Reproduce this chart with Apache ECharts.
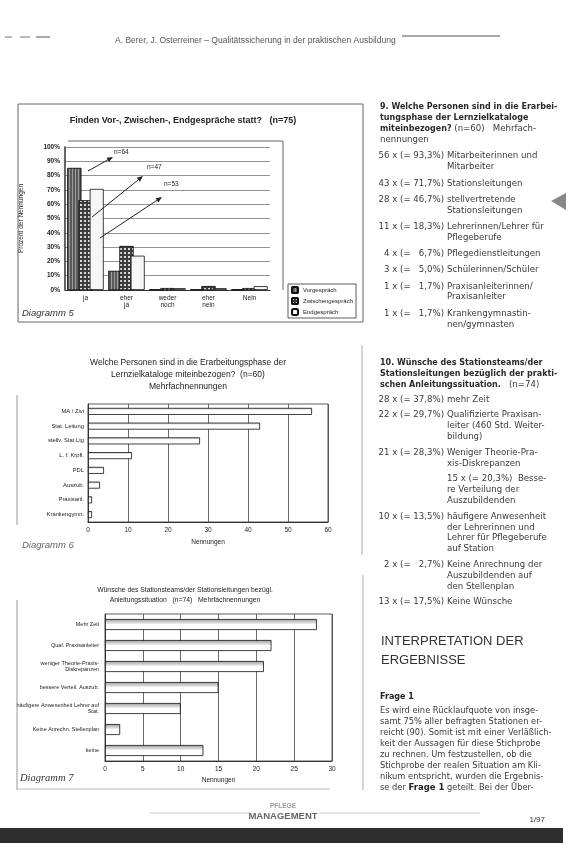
<!DOCTYPE html>
<html><head><meta charset="utf-8">
<script src="https://cdn.jsdelivr.net/npm/echarts@6/dist/echarts.min.js"></script>
<style>html,body{margin:0;padding:0;background:#fff}#c{width:568px;height:846px}</style>
</head><body><div id="c"></div>
<script>
// ---------- Diagramm 5 ----------
const d5Categories = ['ja', 'eher\nja', 'weder\nnoch', 'eher\nnein', 'Nein'];
const d5SeriesNames = ['Vorgespräch', 'Zwischengespräch', 'Endgespräch'];
const d5Vor = [85.3, 13.3, 0.5, 0.5, 0.5];
const d5Zwischen = [62.7, 30.7, 1.3, 2.7, 1.3];
const d5End = [70.7, 24.0, 1.3, 1.3, 2.7];
const d5Notes = ['n=64', 'n=47', 'n=53'];

// ---------- Diagramm 6 ----------
const d6Categories = ['MA / Zivi', 'Stat. Leitung', 'stellv. Stat.Ltg', 'L. f. Krpfl.', 'PDL', 'Auszub.', 'Praxisanl.', 'Krankengymn.'];
const d6Values = [56, 43, 28, 11, 4, 3, 1, 1];

// ---------- Diagramm 7 ----------
const d7Categories = ['Mehr Zeit', 'Qual. Praxisanleiter', 'weniger Theorie-Praxis-\nDiskrepanzen', 'bessere Verteil. Auszub.', 'häufigere Anwesenheit Lehrer auf\nStat.', 'Keine Anrechn. Stellenplan', 'keine'];
const d7Values = [28, 22, 21, 15, 10, 2, 13];

const SANS = '"Liberation Sans", Arial, sans-serif';
const COL = '"DejaVu Sans", sans-serif';

const chart = echarts.init(document.getElementById('c'), null, {renderer: 'canvas'});

function txt(x, y, s, o) {
  o = o || {};
  const st = {text: s, fill: o.fill || '#3a3a3a', font: o.font || ('9px ' + COL), align: o.align || 'left', verticalAlign: 'middle'};
  if (o.rich) st.rich = o.rich;
  return {type: 'text', x: x, y: y, silent: true, z: 100, style: st};
}
function ln(x1, y1, x2, y2, c, w) {
  return {type: 'line', silent: true, z: 90, shape: {x1, y1, x2, y2}, style: {stroke: c || '#555', lineWidth: w || 1}};
}
function arrow(x1, y1, x2, y2) {
  const a = Math.atan2(y2 - y1, x2 - x1), L = 6, W = 2.5;
  const bx = x2 - L * Math.cos(a), by = y2 - L * Math.sin(a);
  const px = -Math.sin(a) * W, py = Math.cos(a) * W;
  return [
    ln(x1, y1, bx, by, '#222', 1),
    {type: 'polygon', silent: true, z: 91, shape: {points: [[x2, y2], [bx + px, by + py], [bx - px, by - py]]}, style: {fill: '#222'}}
  ];
}

const g = [];
// Header
g.push(ln(5, 37, 12, 37, '#777', 1), ln(20, 37, 30, 37, '#777', 1), ln(36, 37, 50, 37, '#555', 1));
g.push(txt(115, 41, 'A. Berer, J. Osterreiner – Qualitätssicherung in der praktischen Ausbildung', {font: '8.5px ' + SANS, fill: '#555'}));
g.push(ln(402, 36, 500, 36, '#555', 1));

// Frames
g.push({type: 'rect', silent: true, z: 1, shape: {x: 18, y: 104, width: 345, height: 218}, style: {fill: 'none', stroke: '#666', lineWidth: 1}});
g.push(ln(68, 141, 283, 141, '#666', 1), ln(283, 141, 283, 290, '#666', 1));
g.push(ln(17, 395, 17, 525, '#999', 1), ln(362, 345, 362, 555, '#aaa', 1));
g.push(ln(17, 600, 17, 790, '#999', 1), ln(363, 575, 363, 790, '#aaa', 1), ln(17, 789, 330, 789, '#bbb', 1));

// Diagram labels
g.push(txt(22, 313, 'Diagramm 5', {font: 'italic 9.5px ' + SANS, fill: '#333'}));
g.push(txt(22, 545, 'Diagramm 6', {font: 'italic 9.5px ' + SANS, fill: '#666'}));
g.push(txt(20, 778, 'Diagramm 7', {font: 'italic 10.5px "Liberation Serif", serif', fill: '#333'}));

// n= annotations (arrows)
g.push(...arrow(88, 171, 113, 157), ...arrow(92, 217, 143, 176), ...arrow(100, 238, 162, 197));
g.push(txt(114, 152, d5Notes[0], {font: '6.5px ' + SANS, fill: '#222'}));
g.push(txt(147, 167, d5Notes[1], {font: '6.5px ' + SANS, fill: '#222'}));
g.push(txt(164, 184, d5Notes[2], {font: '6.5px ' + SANS, fill: '#222'}));

// Right pointer triangle
g.push({type: 'polygon', silent: true, z: 50, shape: {points: [[551, 201], [566, 193], [566, 210]]}, style: {fill: '#888'}});

// Right column text
const BOLD = 'bold 8px ' + COL;
const NORM = '8.6px ' + COL;
const rich = {b: {font: BOLD, fill: '#2a2a2a'}};
function block(y, header, items, lh, gapHead, gapItem) {
  header.forEach(h => { g.push(txt(380, y, h, {font: NORM, rich: rich})); y += lh; });
  y += gapHead;
  items.forEach(it => {
    if (it.c) g.push(txt(444, y, it.c, {font: NORM, align: 'right'}));
    it.l.forEach(l => { g.push(txt(447, y, l, {font: NORM})); y += lh; });
    y += gapItem;
  });
}
block(107,
  ['{b|9. Welche Personen sind in die Erarbei-}', '{b|tungsphase der Lernzielkataloge}', '{b|miteinbezogen?} (n=60)   Mehrfach-', 'nennungen'],
  [
    {c: '56 x (= 93,3%)', l: ['Mitarbeiterinnen und', 'Mitarbeiter']},
    {c: '43 x (= 71,7%)', l: ['Stationsleitungen']},
    {c: '28 x (= 46,7%)', l: ['stellvertretende', 'Stationsleitungen']},
    {c: '11 x (= 18,3%)', l: ['Lehrerinnen/Lehrer für', 'Pflegeberufe']},
    {c: '4 x (=   6,7%)', l: ['Pflegedienstleitungen']},
    {c: '3 x (=   5,0%)', l: ['Schülerinnen/Schüler']},
    {c: '1 x (=   1,7%)', l: ['Praxisanleiterinnen/', 'Praxisanleiter']},
    {c: '1 x (=   1,7%)', l: ['Krankengymnastin-', 'nen/gymnasten']}
  ], 10.8, 6, 5.5);
block(363,
  ['{b|10. Wünsche des Stationsteams/der}', '{b|Stationsleitungen bezüglich der prakti-}', '{b|schen Anleitungssituation.}   (n=74)'],
  [
    {c: '28 x (= 37,8%)', l: ['mehr Zeit']},
    {c: '22 x (= 29,7%)', l: ['Qualifizierte Praxisan-', 'leiter (460 Std. Weiter-', 'bildung)']},
    {c: '21 x (= 28,3%)', l: ['Weniger Theorie-Pra-', 'xis-Diskrepanzen']},
    {c: '', l: ['15 x (= 20,3%)  Besse-', 're Verteilung der', 'Auszubildenden']},
    {c: '10 x (= 13,5%)', l: ['häufigere Anwesenheit', 'der Lehrerinnen und', 'Lehrer für Pflegeberufe', 'auf Station']},
    {c: '2 x (=   2,7%)', l: ['Keine Anrechnung der', 'Auszubildenden auf', 'den Stellenplan']},
    {c: '13 x (= 17,5%)', l: ['Keine Wünsche']}
  ], 10.8, 4, 5);

g.push(txt(381, 641, 'INTERPRETATION DER', {font: '13px ' + SANS, fill: '#333'}));
g.push(txt(381, 660, 'ERGEBNISSE', {font: '13px ' + SANS, fill: '#333'}));
g.push(txt(380, 697, 'Frage 1', {font: BOLD, fill: '#222'}));
const body = [
  'Es wird eine Rücklaufquote von insge-',
  'samt 75% aller befragten Stationen er-',
  'reicht (90). Somit ist mit einer Verläßlich-',
  'keit der Aussagen für diese Stichprobe',
  'zu rechnen. Um festzustellen, ob die',
  'Stichprobe der realen Situation am Kli-',
  'nikum entspricht, wurden die Ergebnis-',
  'se der {b|Frage 1} geteilt. Bei der Über-'
];
body.forEach((l, i) => g.push(txt(380, 711 + i * 11, l, {font: '8.3px ' + COL, rich: {b: {font: 'bold 8.5px ' + COL, fill: '#222'}}})));

// Footer
g.push(ln(150, 813, 250, 813, '#ccc', 1), ln(320, 813, 480, 813, '#ccc', 1));
g.push(txt(283, 806, 'PFLEGE', {font: 'bold 6.5px ' + SANS, fill: '#999', align: 'center'}));
g.push(txt(283, 816, 'MANAGEMENT', {font: 'bold 9.5px ' + SANS, fill: '#666', align: 'center'}));
g.push(txt(545, 820, '1/97', {font: '8px ' + SANS, fill: '#333', align: 'right'}));
g.push({type: 'rect', silent: true, z: 80, shape: {x: 0, y: 828, width: 563, height: 15}, style: {fill: '#2e2e2e'}});

const axisFont = {fontFamily: SANS, color: '#222'};

const option = {
  animation: false,
  backgroundColor: '#fff',
  textStyle: {fontFamily: SANS},
  title: [
    {text: 'Finden Vor-, Zwischen-, Endgespräche statt?   (n=75)', left: 183, top: 116, textAlign: 'center', padding: 0,
     textStyle: {fontSize: 9, fontWeight: 'bold', color: '#222', fontFamily: SANS}},
    {text: 'Welche Personen sind in die Erarbeitungsphase der\nLernzielkataloge miteinbezogen?  (n=60)\nMehrfachnennungen', left: 188, top: 357, textAlign: 'center', padding: 0,
     textStyle: {fontSize: 8.5, fontWeight: 'normal', lineHeight: 12, color: '#222', fontFamily: SANS}},
    {text: 'Wünsche des Stationsteams/der Stationsleitungen bezügl.\nAnleitungssituation   (n=74)   Mehrfachnennungen', left: 185, top: 585, textAlign: 'center', padding: 0,
     textStyle: {fontSize: 6.8, fontWeight: 'normal', lineHeight: 10, color: '#222', fontFamily: SANS}}
  ],
  legend: {
    data: d5SeriesNames, orient: 'vertical', left: 288, top: 284, itemWidth: 6, itemHeight: 6, itemGap: 3,
    padding: [2, 3], borderColor: '#333', borderWidth: 0.8, textStyle: {fontSize: 6, fontFamily: SANS, color: '#222'}
  },
  grid: [
    {left: 65, top: 147, width: 205, height: 143, containLabel: false, outerBoundsMode: 'none'},
    {left: 88, top: 404, width: 240, height: 118, containLabel: false, outerBoundsMode: 'none', show: true, borderColor: '#333', borderWidth: 0.8},
    {left: 105, top: 614, width: 227, height: 147, containLabel: false, outerBoundsMode: 'none', show: true, borderColor: '#333', borderWidth: 0.8}
  ],
  xAxis: [
    {type: 'category', gridIndex: 0, data: d5Categories, axisTick: {show: false},
     axisLine: {lineStyle: {color: '#333'}}, axisLabel: Object.assign({fontSize: 6.5, lineHeight: 7, margin: 5}, axisFont)},
    {type: 'value', gridIndex: 1, min: 0, max: 60, interval: 10, name: 'Nennungen', nameLocation: 'middle', nameGap: 17,
     nameTextStyle: {fontSize: 6.5, fontFamily: SANS, color: '#222'},
     axisLine: {show: true, lineStyle: {color: '#333'}}, axisTick: {show: false},
     axisLabel: Object.assign({fontSize: 6.5, margin: 5}, axisFont),
     splitLine: {show: true, lineStyle: {color: '#444', width: 0.8}}},
    {type: 'value', gridIndex: 2, min: 0, max: 30, interval: 5, name: 'Nennungen', nameLocation: 'middle', nameGap: 16,
     nameTextStyle: {fontSize: 6.5, fontFamily: SANS, color: '#222'},
     axisLine: {show: true, lineStyle: {color: '#333'}}, axisTick: {show: false},
     axisLabel: Object.assign({fontSize: 6.5, margin: 5}, axisFont),
     splitLine: {show: true, lineStyle: {color: '#444', width: 0.8}}}
  ],
  yAxis: [
    {type: 'value', gridIndex: 0, min: 0, max: 100, interval: 10, name: 'Prozent der Nennungen', nameLocation: 'middle', nameGap: 40,
     nameTextStyle: {fontSize: 6.5, fontFamily: SANS, color: '#222'},
     axisLine: {show: true, lineStyle: {color: '#333', width: 1.5}}, axisTick: {show: false},
     axisLabel: Object.assign({fontSize: 6.5, fontWeight: 'bold', margin: 5, formatter: '{value}%'}, axisFont),
     splitLine: {show: true, lineStyle: {color: '#777', width: 0.8}}},
    {type: 'category', gridIndex: 1, data: d6Categories, inverse: true, axisTick: {show: false},
     axisLine: {lineStyle: {color: '#333'}}, axisLabel: Object.assign({fontSize: 5.8, margin: 4}, axisFont)},
    {type: 'category', gridIndex: 2, data: d7Categories, inverse: true, axisTick: {show: false},
     axisLine: {lineStyle: {color: '#333'}}, axisLabel: Object.assign({fontSize: 5.5, lineHeight: 6.5, margin: 6}, axisFont)}
  ],
  series: [
    {name: d5SeriesNames[0], type: 'bar', xAxisIndex: 0, yAxisIndex: 0, data: d5Vor, barWidth: 14, barGap: '-20%',
     itemStyle: {color: '#5a5a5a', borderColor: '#111', borderWidth: 0.6,
       decal: {symbol: 'rect', symbolSize: 1, dashArrayX: [1, 2], dashArrayY: [4, 0], color: 'rgba(200,200,200,0.6)'}}},
    {name: d5SeriesNames[1], type: 'bar', xAxisIndex: 0, yAxisIndex: 0, data: d5Zwischen, barWidth: 14,
     itemStyle: {color: '#3c3c3c', borderColor: '#111', borderWidth: 0.6,
       decal: {symbol: 'rect', symbolSize: 1, dashArrayX: [2, 2], dashArrayY: [2, 2], color: 'rgba(235,235,235,0.9)'}}},
    {name: d5SeriesNames[2], type: 'bar', xAxisIndex: 0, yAxisIndex: 0, data: d5End, barWidth: 14,
     itemStyle: {color: '#f6f6f6', borderColor: '#111', borderWidth: 0.8}},
    {name: 'Nennungen 6', type: 'bar', xAxisIndex: 1, yAxisIndex: 1, data: d6Values, barWidth: 7,
     itemStyle: {color: new echarts.graphic.LinearGradient(0, 0, 0, 1, [{offset: 0, color: '#bbb'}, {offset: 0.35, color: '#fff'}, {offset: 1, color: '#fff'}]),
       borderColor: '#111', borderWidth: 0.8}},
    {name: 'Nennungen 7', type: 'bar', xAxisIndex: 2, yAxisIndex: 2, data: d7Values, barWidth: 11,
     itemStyle: {color: new echarts.graphic.LinearGradient(0, 0, 0, 1, [{offset: 0, color: '#999'}, {offset: 0.4, color: '#e6e6e6'}, {offset: 0.5, color: '#fff'}, {offset: 1, color: '#fff'}]),
       borderColor: '#111', borderWidth: 0.8}}
  ],
  graphic: g
};
chart.setOption(option);
</script>
</body></html>
